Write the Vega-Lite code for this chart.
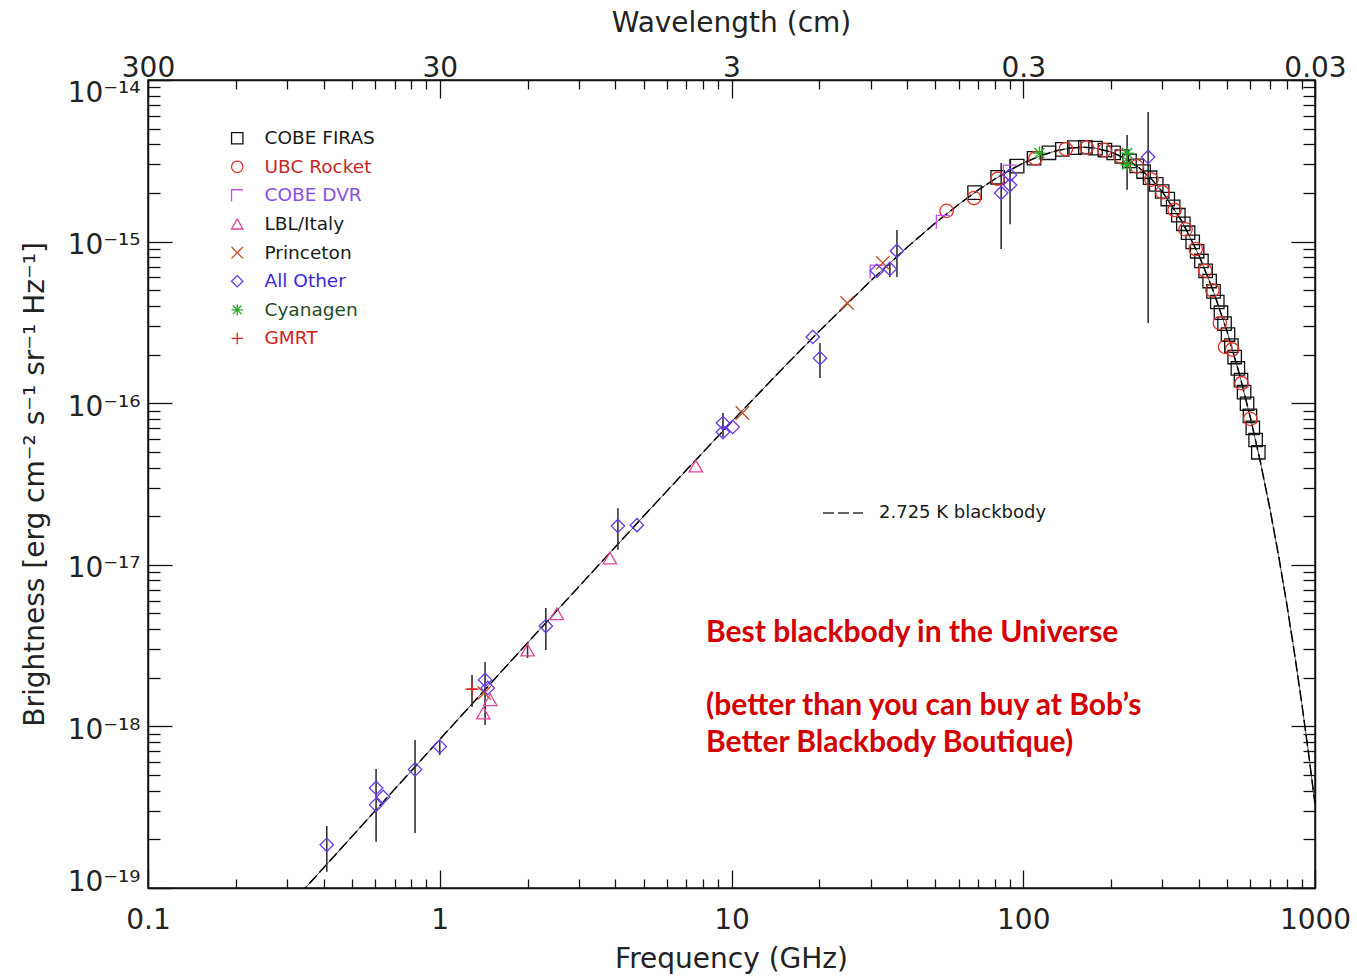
{
  "$schema": "https://vega.github.io/schema/vega-lite/v6.json",
  "width": 1167,
  "height": 808,
  "autosize": "none",
  "padding": {"left": 148, "top": 80, "right": 42, "bottom": 90},
  "background": "white",
  "config": {
    "view": {"stroke": "#111", "strokeWidth": 1.5},
    "axis": {
      "grid": false, "domainColor": "#111", "domainWidth": 1.5,
      "tickColor": "#111", "tickWidth": 1.3,
      "labelFont": "DejaVu Sans", "labelFontSize": 28, "labelColor": "#222",
      "titleFont": "DejaVu Sans", "titleFontSize": 28, "titleFontWeight": "normal", "titleColor": "#222",
      "labelFlush": false, "labelOverlap": false, "labelBound": false
    },
    "legend": {"labelFont": "DejaVu Sans", "labelFontSize": 18.5, "labelColor": "#1a1a1a", "padding": 0, "labelLimit": 400}
  },
  "datasets": {
    "curve": [
      {"freq": 0.33, "B": 9.09e-20, "model": "2.725 K blackbody"},
      {"freq": 0.5, "B": 2.084e-19, "model": "2.725 K blackbody"},
      {"freq": 0.7, "B": 4.077e-19, "model": "2.725 K blackbody"},
      {"freq": 1, "B": 8.298e-19, "model": "2.725 K blackbody"},
      {"freq": 1.5, "B": 1.859e-18, "model": "2.725 K blackbody"},
      {"freq": 2, "B": 3.290e-18, "model": "2.725 K blackbody"},
      {"freq": 3, "B": 7.338e-18, "model": "2.725 K blackbody"},
      {"freq": 5, "B": 2.002e-17, "model": "2.725 K blackbody"},
      {"freq": 7, "B": 3.855e-17, "model": "2.725 K blackbody"},
      {"freq": 10, "B": 7.657e-17, "model": "2.725 K blackbody"},
      {"freq": 15, "B": 1.646e-16, "model": "2.725 K blackbody"},
      {"freq": 20, "B": 2.794e-16, "model": "2.725 K blackbody"},
      {"freq": 30, "B": 5.718e-16, "model": "2.725 K blackbody"},
      {"freq": 40, "B": 9.227e-16, "model": "2.725 K blackbody"},
      {"freq": 50, "B": 1.305e-15, "model": "2.725 K blackbody"},
      {"freq": 60, "B": 1.697e-15, "model": "2.725 K blackbody"},
      {"freq": 70, "B": 2.081e-15, "model": "2.725 K blackbody"},
      {"freq": 80, "B": 2.442e-15, "model": "2.725 K blackbody"},
      {"freq": 90, "B": 2.771e-15, "model": "2.725 K blackbody"},
      {"freq": 100, "B": 3.060e-15, "model": "2.725 K blackbody"},
      {"freq": 115, "B": 3.409e-15, "model": "2.725 K blackbody"},
      {"freq": 130, "B": 3.652e-15, "model": "2.725 K blackbody"},
      {"freq": 145, "B": 3.792e-15, "model": "2.725 K blackbody"},
      {"freq": 160, "B": 3.837e-15, "model": "2.725 K blackbody"},
      {"freq": 175, "B": 3.798e-15, "model": "2.725 K blackbody"},
      {"freq": 200, "B": 3.590e-15, "model": "2.725 K blackbody"},
      {"freq": 225, "B": 3.255e-15, "model": "2.725 K blackbody"},
      {"freq": 250, "B": 2.855e-15, "model": "2.725 K blackbody"},
      {"freq": 275, "B": 2.436e-15, "model": "2.725 K blackbody"},
      {"freq": 300, "B": 2.031e-15, "model": "2.725 K blackbody"},
      {"freq": 350, "B": 1.334e-15, "model": "2.725 K blackbody"},
      {"freq": 400, "B": 8.237e-16, "model": "2.725 K blackbody"},
      {"freq": 450, "B": 4.857e-16, "model": "2.725 K blackbody"},
      {"freq": 500, "B": 2.763e-16, "model": "2.725 K blackbody"},
      {"freq": 550, "B": 1.525e-16, "model": "2.725 K blackbody"},
      {"freq": 600, "B": 8.205e-17, "model": "2.725 K blackbody"},
      {"freq": 650, "B": 4.325e-17, "model": "2.725 K blackbody"},
      {"freq": 700, "B": 2.239e-17, "model": "2.725 K blackbody"},
      {"freq": 750, "B": 1.142e-17, "model": "2.725 K blackbody"},
      {"freq": 800, "B": 5.744e-18, "model": "2.725 K blackbody"},
      {"freq": 850, "B": 2.856e-18, "model": "2.725 K blackbody"},
      {"freq": 900, "B": 1.406e-18, "model": "2.725 K blackbody"},
      {"freq": 950, "B": 6.853e-19, "model": "2.725 K blackbody"},
      {"freq": 1000, "B": 3.313e-19, "model": "2.725 K blackbody"}
    ],
    "errbars": [
      {"freq": 0.41, "lo": 1.26e-19, "hi": 2.42e-19},
      {"freq": 0.605, "lo": 1.93e-19, "hi": 5.45e-19},
      {"freq": 0.823, "lo": 2.19e-19, "hi": 8.24e-19},
      {"freq": 1.0, "lo": 6.65e-19, "hi": 8.24e-19},
      {"freq": 1.29, "lo": 1.32e-18, "hi": 2.08e-18},
      {"freq": 1.43, "lo": 1.02e-18, "hi": 2.5e-18},
      {"freq": 2.0, "lo": 2.65e-18, "hi": 3.28e-18},
      {"freq": 2.31, "lo": 2.97e-18, "hi": 5.41e-18},
      {"freq": 4.08, "lo": 1.24e-17, "hi": 2.24e-17},
      {"freq": 9.35, "lo": 6.18e-17, "hi": 8.7e-17},
      {"freq": 20.1, "lo": 1.43e-16, "hi": 2.36e-16},
      {"freq": 34.9, "lo": 6.04e-16, "hi": 7.38e-16},
      {"freq": 36.9, "lo": 6.04e-16, "hi": 1.18e-15},
      {"freq": 84, "lo": 9.0e-16, "hi": 3.06e-15},
      {"freq": 90.1, "lo": 1.28e-15, "hi": 3.24e-15},
      {"freq": 227, "lo": 2.09e-15, "hi": 4.57e-15},
      {"freq": 268, "lo": 3.13e-16, "hi": 6.34e-15}
    ],
    "points": [
      {"series": "COBE FIRAS", "freq": 68.1, "B": 2.009e-15},
      {"series": "COBE FIRAS", "freq": 81.7, "B": 2.500e-15},
      {"series": "COBE FIRAS", "freq": 95.3, "B": 2.929e-15},
      {"series": "COBE FIRAS", "freq": 108.9, "B": 3.280e-15},
      {"series": "COBE FIRAS", "freq": 122.5, "B": 3.544e-15},
      {"series": "COBE FIRAS", "freq": 136.1, "B": 3.721e-15},
      {"series": "COBE FIRAS", "freq": 149.7, "B": 3.816e-15},
      {"series": "COBE FIRAS", "freq": 163.3, "B": 3.835e-15},
      {"series": "COBE FIRAS", "freq": 176.9, "B": 3.789e-15},
      {"series": "COBE FIRAS", "freq": 190.5, "B": 3.687e-15},
      {"series": "COBE FIRAS", "freq": 204.1, "B": 3.542e-15},
      {"series": "COBE FIRAS", "freq": 217.7, "B": 3.362e-15},
      {"series": "COBE FIRAS", "freq": 231.3, "B": 3.159e-15},
      {"series": "COBE FIRAS", "freq": 244.9, "B": 2.940e-15},
      {"series": "COBE FIRAS", "freq": 258.5, "B": 2.713e-15},
      {"series": "COBE FIRAS", "freq": 272.1, "B": 2.485e-15},
      {"series": "COBE FIRAS", "freq": 285.7, "B": 2.260e-15},
      {"series": "COBE FIRAS", "freq": 299.3, "B": 2.042e-15},
      {"series": "COBE FIRAS", "freq": 312.9, "B": 1.834e-15},
      {"series": "COBE FIRAS", "freq": 326.5, "B": 1.639e-15},
      {"series": "COBE FIRAS", "freq": 340.1, "B": 1.457e-15},
      {"series": "COBE FIRAS", "freq": 353.7, "B": 1.289e-15},
      {"series": "COBE FIRAS", "freq": 367.3, "B": 1.135e-15},
      {"series": "COBE FIRAS", "freq": 380.9, "B": 9.96e-16},
      {"series": "COBE FIRAS", "freq": 394.5, "B": 8.71e-16},
      {"series": "COBE FIRAS", "freq": 408.1, "B": 7.59e-16},
      {"series": "COBE FIRAS", "freq": 421.7, "B": 6.59e-16},
      {"series": "COBE FIRAS", "freq": 435.3, "B": 5.70e-16},
      {"series": "COBE FIRAS", "freq": 448.9, "B": 4.92e-16},
      {"series": "COBE FIRAS", "freq": 462.5, "B": 4.23e-16},
      {"series": "COBE FIRAS", "freq": 476.1, "B": 3.63e-16},
      {"series": "COBE FIRAS", "freq": 489.7, "B": 3.11e-16},
      {"series": "COBE FIRAS", "freq": 503.3, "B": 2.66e-16},
      {"series": "COBE FIRAS", "freq": 516.9, "B": 2.27e-16},
      {"series": "COBE FIRAS", "freq": 530.5, "B": 1.93e-16},
      {"series": "COBE FIRAS", "freq": 544.1, "B": 1.64e-16},
      {"series": "COBE FIRAS", "freq": 557.7, "B": 1.39e-16},
      {"series": "COBE FIRAS", "freq": 571.3, "B": 1.17e-16},
      {"series": "COBE FIRAS", "freq": 584.9, "B": 9.92e-17},
      {"series": "COBE FIRAS", "freq": 598.5, "B": 8.36e-17},
      {"series": "COBE FIRAS", "freq": 612.1, "B": 7.04e-17},
      {"series": "COBE FIRAS", "freq": 625.7, "B": 5.92e-17},
      {"series": "COBE FIRAS", "freq": 639.3, "B": 4.97e-17},
      {"series": "UBC Rocket", "freq": 54.6, "B": 1.55e-15},
      {"series": "UBC Rocket", "freq": 67.8, "B": 1.86e-15},
      {"series": "UBC Rocket", "freq": 81.7, "B": 2.45e-15},
      {"series": "UBC Rocket", "freq": 110, "B": 3.27e-15},
      {"series": "UBC Rocket", "freq": 140, "B": 3.74e-15},
      {"series": "UBC Rocket", "freq": 165, "B": 3.82e-15},
      {"series": "UBC Rocket", "freq": 190, "B": 3.68e-15},
      {"series": "UBC Rocket", "freq": 215, "B": 3.38e-15},
      {"series": "UBC Rocket", "freq": 245, "B": 2.92e-15},
      {"series": "UBC Rocket", "freq": 275, "B": 2.42e-15},
      {"series": "UBC Rocket", "freq": 300, "B": 2.02e-15},
      {"series": "UBC Rocket", "freq": 330, "B": 1.57e-15},
      {"series": "UBC Rocket", "freq": 360, "B": 1.19e-15},
      {"series": "UBC Rocket", "freq": 390, "B": 9.0e-16},
      {"series": "UBC Rocket", "freq": 420, "B": 6.6e-16},
      {"series": "UBC Rocket", "freq": 445, "B": 5.0e-16},
      {"series": "UBC Rocket", "freq": 472, "B": 3.13e-16},
      {"series": "UBC Rocket", "freq": 492, "B": 2.23e-16},
      {"series": "UBC Rocket", "freq": 520, "B": 2.15e-16},
      {"series": "UBC Rocket", "freq": 560, "B": 1.33e-16},
      {"series": "UBC Rocket", "freq": 600, "B": 8.0e-17},
      {"series": "COBE DVR", "freq": 31.5, "B": 6.5e-16},
      {"series": "COBE DVR", "freq": 53.1, "B": 1.32e-15},
      {"series": "COBE DVR", "freq": 90.1, "B": 2.7e-15},
      {"series": "LBL/Italy", "freq": 1.41, "B": 1.21e-18},
      {"series": "LBL/Italy", "freq": 1.49, "B": 1.46e-18},
      {"series": "LBL/Italy", "freq": 2.0, "B": 2.97e-18},
      {"series": "LBL/Italy", "freq": 2.52, "B": 4.97e-18},
      {"series": "LBL/Italy", "freq": 3.83, "B": 1.10e-17},
      {"series": "LBL/Italy", "freq": 7.55, "B": 4.08e-17},
      {"series": "Princeton", "freq": 1.42, "B": 1.61e-18},
      {"series": "Princeton", "freq": 10.9, "B": 8.7e-17},
      {"series": "Princeton", "freq": 24.9, "B": 4.17e-16},
      {"series": "Princeton", "freq": 33.0, "B": 7.38e-16},
      {"series": "All Other", "freq": 0.41, "B": 1.85e-19},
      {"series": "All Other", "freq": 0.605, "B": 4.16e-19},
      {"series": "All Other", "freq": 0.605, "B": 3.27e-19},
      {"series": "All Other", "freq": 0.64, "B": 3.66e-19},
      {"series": "All Other", "freq": 0.823, "B": 5.42e-19},
      {"series": "All Other", "freq": 1.0, "B": 7.5e-19},
      {"series": "All Other", "freq": 1.43, "B": 1.94e-18},
      {"series": "All Other", "freq": 1.46, "B": 1.73e-18},
      {"series": "All Other", "freq": 2.31, "B": 4.18e-18},
      {"series": "All Other", "freq": 4.08, "B": 1.74e-17},
      {"series": "All Other", "freq": 4.74, "B": 1.76e-17},
      {"series": "All Other", "freq": 9.35, "B": 7.54e-17},
      {"series": "All Other", "freq": 9.35, "B": 6.63e-17},
      {"series": "All Other", "freq": 10.1, "B": 7.13e-17},
      {"series": "All Other", "freq": 19.0, "B": 2.57e-16},
      {"series": "All Other", "freq": 20.1, "B": 1.9e-16},
      {"series": "All Other", "freq": 31.5, "B": 6.6e-16},
      {"series": "All Other", "freq": 34.9, "B": 6.77e-16},
      {"series": "All Other", "freq": 36.9, "B": 8.75e-16},
      {"series": "All Other", "freq": 84, "B": 2.0e-15},
      {"series": "All Other", "freq": 90.1, "B": 2.58e-15},
      {"series": "All Other", "freq": 90.1, "B": 2.24e-15},
      {"series": "All Other", "freq": 268, "B": 3.34e-15},
      {"series": "Cyanagen", "freq": 113.6, "B": 3.53e-15},
      {"series": "Cyanagen", "freq": 227, "B": 3.53e-15},
      {"series": "Cyanagen", "freq": 227, "B": 3.0e-15},
      {"series": "GMRT", "freq": 1.29, "B": 1.70e-18}
    ]
  },
  "layer": [
    {
      "data": {"name": "curve"},
      "mark": {"type": "line", "color": "#555", "strokeWidth": 1, "clip": true},
      "encoding": {
        "x": {
          "field": "freq", "type": "quantitative",
          "scale": {"type": "log", "domain": [0.1, 1000], "nice": false},
          "axis": {
            "orient": "bottom",
            "values": [0.1,0.2,0.3,0.4,0.5,0.6,0.7,0.8,0.9,1,2,3,4,5,6,7,8,9,10,20,30,40,50,60,70,80,90,100,200,300,400,500,600,700,800,900,1000],
            "labelExpr": "indexof([0.1,1,10,100,1000], datum.value) >= 0 ? format(datum.value, '~g') : ''",
            "tickSize": {"condition": {"test": "indexof([0.1,1,10,100,1000], datum.value) >= 0", "value": -18}, "value": -9},
            "labelPadding": 36,
            "title": "Frequency (GHz)",
            "titleX": 583, "titleY": 71, "titleAlign": "center", "titleBaseline": "middle"
          }
        },
        "y": {
          "field": "B", "type": "quantitative",
          "scale": {"type": "log", "domain": [1e-19, 1e-14], "nice": false},
          "axis": {
            "orient": "left",
            "values": [1e-19,2e-19,3e-19,4e-19,5e-19,6e-19,7e-19,8e-19,9e-19,1e-18,2e-18,3e-18,4e-18,5e-18,6e-18,7e-18,8e-18,9e-18,1e-17,2e-17,3e-17,4e-17,5e-17,6e-17,7e-17,8e-17,9e-17,1e-16,2e-16,3e-16,4e-16,5e-16,6e-16,7e-16,8e-16,9e-16,1e-15,2e-15,3e-15,4e-15,5e-15,6e-15,7e-15,8e-15,9e-15,1e-14],
            "labelExpr": "datum.value == 1e-14 ? '10⁻¹⁴' : datum.value == 1e-15 ? '10⁻¹⁵' : datum.value == 1e-16 ? '10⁻¹⁶' : datum.value == 1e-17 ? '10⁻¹⁷' : datum.value == 1e-18 ? '10⁻¹⁸' : datum.value == 1e-19 ? '10⁻¹⁹' : ''",
            "tickSize": {"condition": {"test": "indexof([1e-19,1e-18,1e-17,1e-16,1e-15,1e-14], datum.value) >= 0", "value": -24}, "value": -12},
            "labelPadding": 32,
            "labelBaseline": "middle",
            "labelOffset": {"condition": [{"test": "datum.value == 1e-14", "value": 13}, {"test": "datum.value == 1e-19", "value": -6}], "value": 4},
            "title": "Brightness [erg cm⁻² s⁻¹ sr⁻¹ Hz⁻¹]",
            "titleX": -113, "titleY": 404, "titleAngle": 270, "titleAlign": "center", "titleBaseline": "middle"
          }
        }
      }
    },
    {
      "data": {"name": "curve"},
      "mark": {"type": "line", "color": "#000", "strokeWidth": 1.5, "clip": true},
      "encoding": {
        "x": {"field": "freq", "type": "quantitative", "axis": null},
        "y": {"field": "B", "type": "quantitative", "axis": null},
        "strokeDash": {
          "field": "model", "type": "nominal",
          "scale": {"domain": ["2.725 K blackbody"], "range": [[11, 4]]},
          "legend": {
            "orient": "none", "legendX": 674, "legendY": 412, "title": null,
            "symbolType": "stroke", "symbolSize": 1600, "symbolStrokeColor": "#333", "symbolStrokeWidth": 1.5,
            "labelOffset": 15, "labelFontSize": 18, "labelColor": "#1a1a1a", "labelLimit": 400
          }
        }
      }
    },
    {
      "data": {"name": "errbars"},
      "mark": {"type": "rule", "color": "#333", "strokeWidth": 1.6},
      "encoding": {
        "x": {"field": "freq", "type": "quantitative", "axis": null},
        "y": {"field": "lo", "type": "quantitative", "axis": null},
        "y2": {"field": "hi"}
      }
    },
    {
      "data": {"values": [{"lo": 1.24, "hi": 1.34, "B": 1.70e-18}]},
      "mark": {"type": "rule", "color": "#e02424", "strokeWidth": 1.5},
      "encoding": {
        "x": {"field": "lo", "type": "quantitative", "axis": null},
        "x2": {"field": "hi"},
        "y": {"field": "B", "type": "quantitative", "axis": null}
      }
    },
    {
      "data": {"name": "points"},
      "mark": {"type": "point", "filled": false, "size": 180, "strokeWidth": 1.3, "opacity": 1},
      "encoding": {
        "x": {
          "field": "freq", "type": "quantitative",
          "axis": {
            "orient": "top",
            "values": [0.1,0.2,0.3,0.4,0.5,0.6,0.7,0.8,0.9,1,2,3,4,5,6,7,8,9,10,20,30,40,50,60,70,80,90,100,200,300,400,500,600,700,800,900,1000],
            "labelExpr": "datum.value == 0.1 ? '300' : datum.value == 1 ? '30' : datum.value == 10 ? '3' : datum.value == 100 ? '0.3' : datum.value == 1000 ? '0.03' : ''",
            "tickSize": {"condition": {"test": "indexof([0.1,1,10,100,1000], datum.value) >= 0", "value": -18}, "value": -9},
            "labelPadding": 22,
            "labelBaseline": "alphabetic",
            "title": "Wavelength (cm)",
            "titleX": 583, "titleY": -57, "titleAlign": "center", "titleBaseline": "middle"
          }
        },
        "y": {
          "field": "B", "type": "quantitative",
          "axis": {
            "orient": "right",
            "values": [1e-19,2e-19,3e-19,4e-19,5e-19,6e-19,7e-19,8e-19,9e-19,1e-18,2e-18,3e-18,4e-18,5e-18,6e-18,7e-18,8e-18,9e-18,1e-17,2e-17,3e-17,4e-17,5e-17,6e-17,7e-17,8e-17,9e-17,1e-16,2e-16,3e-16,4e-16,5e-16,6e-16,7e-16,8e-16,9e-16,1e-15,2e-15,3e-15,4e-15,5e-15,6e-15,7e-15,8e-15,9e-15,1e-14],
            "labels": false,
            "tickSize": {"condition": {"test": "indexof([1e-19,1e-18,1e-17,1e-16,1e-15,1e-14], datum.value) >= 0", "value": -24}, "value": -12},
            "title": null
          }
        },
        "color": {
          "field": "series", "type": "nominal",
          "scale": {
            "domain": ["COBE FIRAS", "UBC Rocket", "COBE DVR", "LBL/Italy", "Princeton", "All Other", "Cyanagen", "GMRT"],
            "range": ["#111111", "#e0342c", "#c84ef0", "#e2449c", "#c0502a", "#6a3af0", "#22b022", "#e02424"]
          },
          "legend": {
            "orient": "none", "legendX": 80, "legendY": 49, "title": null,
            "symbolSize": 130, "symbolStrokeWidth": 1.3, "rowPadding": 9.6, "labelOffset": 18,
            "labelFontSize": 18.5,
            "labelColor": {"expr": "datum.label === 'UBC Rocket' ? '#c62828' : datum.label === 'COBE DVR' ? '#8a4fe6' : datum.label === 'All Other' ? '#3a26e0' : datum.label === 'GMRT' ? '#d42020' : datum.label === 'Cyanagen' ? '#1f4d1f' : '#1a1a1a'"}
          }
        },
        "shape": {
          "field": "series", "type": "nominal",
          "scale": {
            "domain": ["COBE FIRAS", "UBC Rocket", "COBE DVR", "LBL/Italy", "Princeton", "All Other", "Cyanagen", "GMRT"],
            "range": ["square", "circle", "M-1,1L-1,-1L1,-1", "triangle-up", "M-1,-1L1,1M1,-1L-1,1", "diamond", "M-1,0L1,0M0,-1L0,1M-0.75,-0.75L0.75,0.75M0.75,-0.75L-0.75,0.75", "M-1,0L1,0M0,-1L0,1"]
          }
        }
      }
    },
    {
      "data": {"values": [{}]},
      "mark": {
        "type": "text",
        "text": "Best blackbody in the Universe",
        "font": "Lato", "fontWeight": "bold", "fontSize": 30, "color": "#d40000",
        "align": "left", "baseline": "alphabetic"
      },
      "encoding": {
        "x": {"datum": 8.18, "type": "quantitative", "axis": null},
        "y": {"datum": 3.33e-18, "type": "quantitative", "axis": null}
      }
    },
    {
      "data": {"values": [{}]},
      "mark": {
        "type": "text",
        "text": ["(better than you can buy at Bob’s", "Better Blackbody Boutique)"],
        "font": "Lato", "fontWeight": "bold", "fontSize": 30, "color": "#d40000",
        "align": "left", "baseline": "alphabetic", "lineHeight": 36.5
      },
      "encoding": {
        "x": {"datum": 8.18, "type": "quantitative", "axis": null},
        "y": {"datum": 1.176e-18, "type": "quantitative", "axis": null}
      }
    }
  ]
}
